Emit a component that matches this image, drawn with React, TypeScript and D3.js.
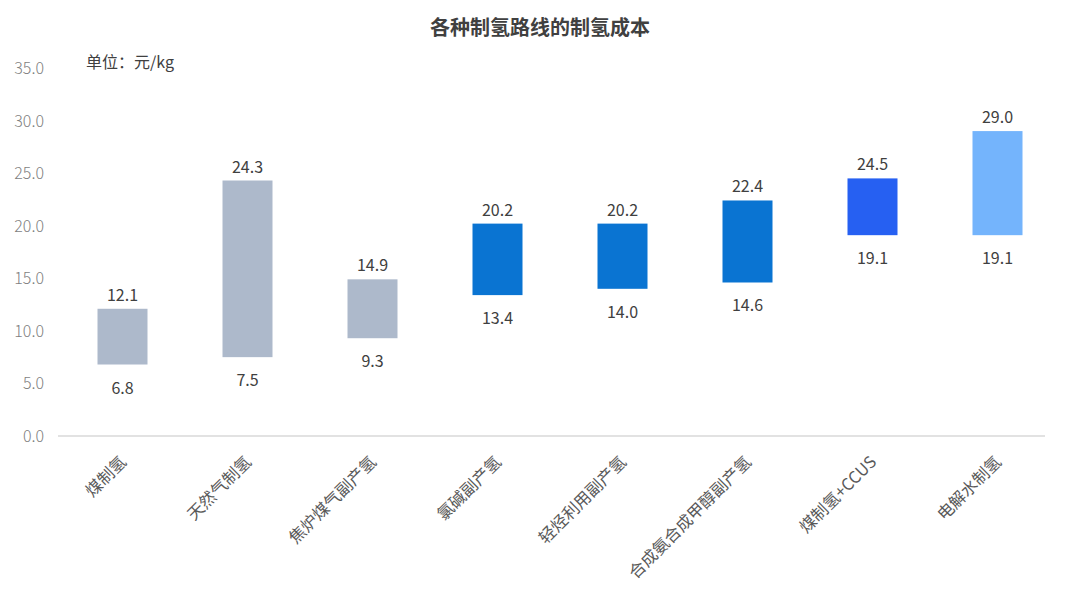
import * as d3 from 'd3';
import React, { useEffect, useRef } from 'react';

const categories = ['煤制氢', '天然气制氢', '焦炉煤气副产氢', '氯碱副产氢', '轻烃利用副产氢', '合成氨合成甲醇副产氢', '煤制氢+CCUS', '电解水制氢'];
const lowValues = [6.8, 7.5, 9.3, 13.4, 14.0, 14.6, 19.1, 19.1];
const highValues = [12.1, 24.3, 14.9, 20.2, 20.2, 22.4, 24.5, 29.0];
const barColors = ['#ADB9CB', '#ADB9CB', '#ADB9CB', '#0A74D2', '#0A74D2', '#0A74D2', '#2660F2', '#74B4FC'];
const yTicks = [0, 5, 10, 15, 20, 25, 30, 35];

const W = 1080;
const H = 599;
const FONT = '"Noto Sans CJK SC", "Noto Sans", sans-serif';

const App = () => {
    const ref = useRef<SVGSVGElement>(null);

    useEffect(() => {
        const svg = d3.select(ref.current);
        svg.selectAll('*').remove();

        const x = d3.scaleBand<string>().domain(categories).range([60, 1060]).paddingInner(0.6).paddingOuter(0.3);
        const y = d3.scaleLinear().domain([0, 35]).range([436, 68]);

        // title
        svg.append('text')
            .attr('x', 540).attr('y', 35)
            .attr('text-anchor', 'middle')
            .attr('font-size', 20).attr('font-weight', 'bold')
            .attr('fill', '#404040')
            .text('各种制氢路线的制氢成本');

        svg.append('text')
            .attr('x', 86).attr('y', 68)
            .attr('font-size', 16).attr('fill', '#404040')
            .text('单位：元/kg');

        // y axis labels
        svg.append('g').selectAll('text')
            .data(yTicks)
            .enter().append('text')
            .attr('x', 44).attr('y', d => y(d) + 6)
            .attr('text-anchor', 'end')
            .attr('font-size', 16).attr('font-weight', 300)
            .attr('fill', '#7F7F7F')
            .text(d => d3.format('.1f')(d));

        // baseline
        svg.append('line')
            .attr('x1', 58).attr('x2', 1045)
            .attr('y1', y(0)).attr('y2', y(0))
            .attr('stroke', '#D9D9D9').attr('stroke-width', 1.5);

        const g = svg.append('g');
        const rows = categories.map((c, i) => ({ c, lo: lowValues[i], hi: highValues[i], color: barColors[i] }));

        g.selectAll('rect')
            .data(rows)
            .enter().append('rect')
            .attr('x', d => x(d.c)!)
            .attr('width', x.bandwidth())
            .attr('y', d => y(d.hi))
            .attr('height', d => y(d.lo) - y(d.hi))
            .attr('fill', d => d.color);

        g.selectAll('text.hi')
            .data(rows)
            .enter().append('text')
            .attr('class', 'hi')
            .attr('x', d => x(d.c)! + x.bandwidth() / 2)
            .attr('y', d => y(d.hi) - 8)
            .attr('text-anchor', 'middle')
            .attr('font-size', 16).attr('fill', '#404040')
            .text(d => d.hi.toFixed(1));

        g.selectAll('text.lo')
            .data(rows)
            .enter().append('text')
            .attr('class', 'lo')
            .attr('x', d => x(d.c)! + x.bandwidth() / 2)
            .attr('y', d => y(d.lo) + 29)
            .attr('text-anchor', 'middle')
            .attr('font-size', 16).attr('fill', '#404040')
            .text(d => d.lo.toFixed(1));

        // category labels
        svg.append('g').selectAll('text')
            .data(categories)
            .enter().append('text')
            .attr('transform', d => `translate(${x(d)! + x.bandwidth() / 2 + 5},${463}) rotate(-45)`)
            .attr('text-anchor', 'end')
            .attr('font-size', 16.5).attr('fill', '#595959')
            .text(d => d);
    }, []);

    return (
        <svg ref={ref} width={W} height={H} style={{ position: 'absolute', left: 0, top: 0, fontFamily: FONT, background: '#fff' }} />
    );
};

export default App;
